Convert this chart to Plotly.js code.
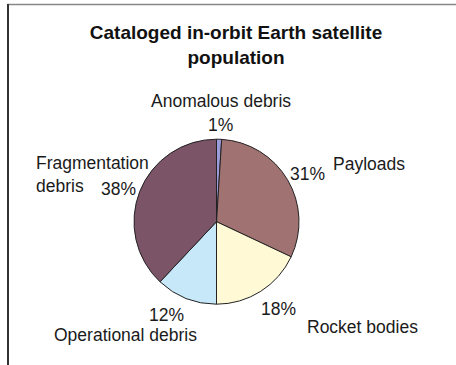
<!DOCTYPE html>
<html>
<head>
<meta charset="utf-8">
<script src="https://cdn.plot.ly/plotly-3.0.1.min.js"></script>
<style>html,body{margin:0;padding:0;background:#fff;}#chart{width:456px;height:365px;}</style>
</head>
<body>
<div id="chart"></div>
<script>
const categories = ["Anomalous debris", "Payloads", "Rocket bodies", "Operational debris", "Fragmentation debris"];
const values = [1, 31, 18, 12, 38];
const colors = ["#9c9bdb", "#a07272", "#fff9d6", "#c7e8f8", "#7b5468"];
const titleText = "<b>Cataloged in-orbit Earth satellite<br>population</b>";

const W = 456, H = 365;
const px = x => x / W;
const py = y => 1 - y / H;

const total = values.reduce((a, b) => a + b, 0);
const pct = values.map(v => Math.round(v / total * 100) + "%");

// label placements (pixel centers) for name and percent, in category order
const namePos = [[221, 101, "center"], [369, 164, "center"], [362, 327, "center"], [125, 335, "center"], [35, 174, "left"]];
const pctPos = [[220, 125], [307, 174], [278, 309], [166, 315], [118, 189]];
const nameText = categories.map(c => c === "Fragmentation debris" ? "Fragmentation<br>debris" : c);

const fnt = {family: "Liberation Sans, Arial, sans-serif", size: 17.5, color: "#1a1a1a"};
const annotations = [];
categories.forEach((c, i) => {
  annotations.push({
    text: nameText[i], xref: "paper", yref: "paper",
    x: px(namePos[i][0]), y: py(namePos[i][1]),
    xanchor: namePos[i][2], yanchor: "middle", align: "left",
    borderpad: 0, showarrow: false, font: fnt
  });
  annotations.push({
    text: pct[i], xref: "paper", yref: "paper",
    x: px(pctPos[i][0]), y: py(pctPos[i][1]),
    xanchor: "center", yanchor: "middle",
    borderpad: 0, showarrow: false, font: fnt
  });
});

const cx = 216.5, cy = 221.7, r = 82.5;
const data = [{
  type: "pie",
  labels: categories,
  values: values,
  sort: false,
  direction: "clockwise",
  rotation: 0,
  textinfo: "none",
  hoverinfo: "label+percent",
  marker: {colors: colors, line: {color: "#222", width: 1}},
  domain: {x: [px(cx - r), px(cx + r)], y: [py(cy + r), py(cy - r)]},
  showlegend: false
}];

const layout = {
  width: W, height: H,
  margin: {l: 0, r: 0, t: 0, b: 0},
  paper_bgcolor: "#fff",
  showlegend: false,
  title: {
    text: titleText,
    x: 236 / W, xref: "container", xanchor: "center",
    y: 1 - 39 / H, yref: "container", yanchor: "middle",
    font: {family: "Liberation Sans, Arial, sans-serif", size: 19, color: "#111"}
  },
  annotations: annotations,
  shapes: [
    {type: "line", xref: "paper", yref: "paper", x0: px(7), x1: 1, y0: py(4.5), y1: py(4.5), line: {color: "#888", width: 1.5}},
    {type: "line", xref: "paper", yref: "paper", x0: px(8), x1: px(8), y0: py(4), y1: 0, line: {color: "#333", width: 2}}
  ]
};

Plotly.newPlot("chart", data, layout, {displayModeBar: false, staticPlot: true});
</script>
</body>
</html>
